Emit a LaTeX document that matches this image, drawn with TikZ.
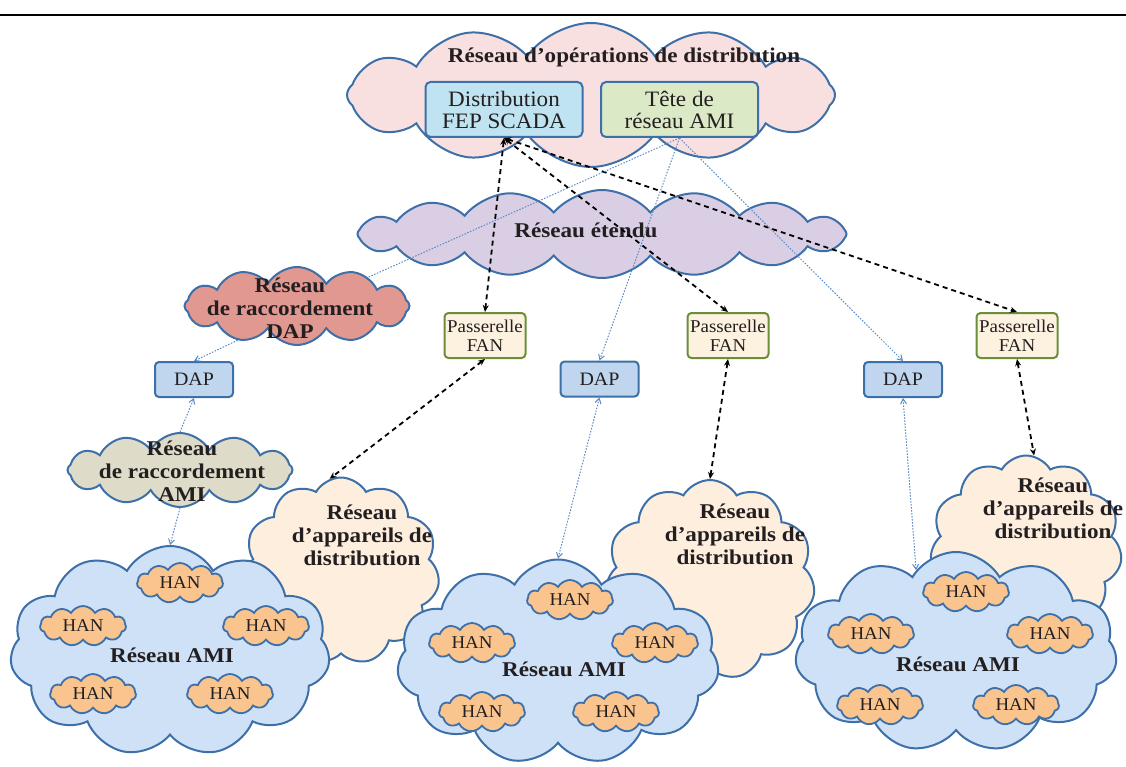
\documentclass[tikz,border=0pt]{standalone}
\usepackage{fontspec}
\setmainfont{Liberation Serif}[FakeStretch=1.05]
\newfontfamily\widefont{Liberation Serif}[FakeStretch=1.1]
\usetikzlibrary{shapes.symbols,arrows.meta}
\definecolor{cblue}{HTML}{3D6FA8}
\definecolor{pinkc}{HTML}{F9E0E0}
\definecolor{scadac}{HTML}{BFE3F0}
\definecolor{tetec}{HTML}{DCE9C6}
\definecolor{wanc}{HTML}{DACEE4}
\definecolor{dapcl}{HTML}{E09890}
\definecolor{fanfill}{HTML}{FDF1E0}
\definecolor{fangreen}{HTML}{6B8E3A}
\definecolor{dapfill}{HTML}{C0D5EE}
\definecolor{amirc}{HTML}{DEDBC8}
\definecolor{devc}{HTML}{FDEEDE}
\definecolor{amic}{HTML}{CFE1F7}
\definecolor{hanc}{HTML}{F9C48E}
\definecolor{txt}{HTML}{231F20}
\definecolor{dotc}{HTML}{5A8AC6}
\tikzset{
  cl/.style={cloud, cloud ignores aspect, draw=cblue, line width=2pt, inner sep=0pt, cloud puff arc=120},
  han/.style={cl, fill=hanc, line width=1.8pt, cloud puffs=11, minimum width=86pt, minimum height=40pt,
     font=\fontsize{18}{20}\selectfont, text=txt},
  ctext/.style={font=\widefont\bfseries\fontsize{21}{23}\selectfont, align=center, text=txt, inner sep=0pt},
  bigbox/.style={rectangle, rounded corners=5pt, draw=cblue, line width=2pt, minimum width=157pt,
     minimum height=55pt, font=\fontsize{22}{22}\selectfont, align=center, text=txt, inner sep=0pt},
  fanbox/.style={rectangle, rounded corners=4pt, draw=fangreen, line width=2pt, fill=fanfill,
     minimum width=81pt, minimum height=45pt, font=\fontsize{18}{19}\selectfont, align=center, text=txt, inner sep=0pt},
  dapbox/.style={rectangle, rounded corners=4pt, draw=cblue, line width=2pt, fill=dapfill,
     minimum width=78pt, minimum height=35pt, font=\fontsize{19}{20}\selectfont, text=txt, inner sep=0pt},
  fanlink/.style={black, line width=1.8pt, dash pattern=on 5pt off 4pt, {Stealth[length=7pt,width=6pt]}-{Stealth[length=7pt,width=6pt]}},
  bluelink/.style={dotc, line width=1pt, dash pattern=on 1.5pt off 1.5pt},
  btip/.style={-{Straight Barb[length=5pt,width=6pt]}},
  bboth/.style={{Straight Barb[length=5pt,width=6pt]}-{Straight Barb[length=5pt,width=6pt]}}
}
\begin{document}
\begin{tikzpicture}[x=1pt,y=-1pt]
\useasboundingbox (0,0) rectangle (1126,767);
\coordinate (tl) at (0,15);
\coordinate (tr) at (1126,15);
\draw[line width=2.5pt] (tl) -- (tr);

% top cloud
\node[cl, fill=pinkc, cloud puffs=12, cloud puff arc=110, minimum width=488pt, minimum height=144pt] (ops) at (591,95) {};
\node[ctext] (opst) at (624,57) {Réseau d’opérations de distribution};
\node[bigbox, fill=scadac] (scada) at (504,109.5) {Distribution\\FEP SCADA};
\node[bigbox, fill=tetec] (tete) at (679.5,109.5) {Tête de\\réseau AMI};

% WAN
\node[cl, fill=wanc, cloud puffs=16, cloud puff arc=100, minimum width=489pt, minimum height=88pt] (wan) at (602,234) {};
\node[ctext] (want) at (586,230) {Réseau étendu};

% DAP access cloud
\node[cl, fill=dapcl, cloud puffs=12, minimum width=225pt, minimum height=78pt] (dapc) at (297,306) {};
\node[ctext] (dapct) at (290,308) {Réseau\\de raccordement\\DAP};

% AMI access cloud
\node[cl, fill=amirc, cloud puffs=12, minimum width=225pt, minimum height=74pt] (amir) at (180,470) {};
\node[ctext] (amirt) at (182,471) {Réseau\\de raccordement\\AMI};

% FAN gateways
\node[fanbox] (fan1) at (485,335.5) {Passerelle\\FAN};
\node[fanbox] (fan2) at (728,335.5) {Passerelle\\FAN};
\node[fanbox] (fan3) at (1017,335.5) {Passerelle\\FAN};

% DAP boxes
\node[dapbox] (dap1) at (194,379.5) {DAP};
\node[dapbox] (dap2) at (599.5,379) {DAP};
\node[dapbox] (dap3) at (903,379.5) {DAP};

% device networks
\node[cl, fill=devc, cloud puffs=11, minimum width=197pt, minimum height=187pt] (dev1) at (341,571) {};
\node[cl, fill=devc, cloud puffs=11, minimum width=210pt, minimum height=200pt] (dev2) at (710,580) {};
\node[cl, fill=devc, cloud puffs=11, minimum width=192pt, minimum height=185pt] (dev3) at (1026,548) {};
\node[ctext] (dev1t) at (362,535) {Réseau\\d’appareils de\\distribution};
\node[ctext] (dev2t) at (735,534) {Réseau\\d’appareils de\\distribution};
\node[ctext] (dev3t) at (1053,508) {Réseau\\d’appareils de\\distribution};

% AMI networks
\node[cl, fill=amic, cloud puffs=11, minimum width=320pt, minimum height=210pt] (ami1) at (170,651) {};
\node[cl, fill=amic, cloud puffs=11, minimum width=322pt, minimum height=205pt] (ami2) at (558,662) {};
\node[cl, fill=amic, cloud puffs=11, minimum width=322pt, minimum height=200pt] (ami3) at (956,652) {};
\node[ctext] (ami1t) at (172,655) {Réseau AMI};
\node[ctext] (ami2t) at (564,669) {Réseau AMI};
\node[ctext] (ami3t) at (958,664) {Réseau AMI};

% HANs
\node[han] (h11) at (180,583) {HAN};
\node[han] (h12) at (83,626) {HAN};
\node[han] (h13) at (266,626) {HAN};
\node[han] (h14) at (93,694) {HAN};
\node[han] (h15) at (230,694) {HAN};
\node[han] (h21) at (570,600) {HAN};
\node[han] (h22) at (472,643) {HAN};
\node[han] (h23) at (655,643) {HAN};
\node[han] (h24) at (482,712) {HAN};
\node[han] (h25) at (616,712) {HAN};
\node[han] (h31) at (966,592) {HAN};
\node[han] (h32) at (871,634) {HAN};
\node[han] (h33) at (1050,634) {HAN};
\node[han] (h34) at (880,705) {HAN};
\node[han] (h35) at (1016,705) {HAN};

% connectors
\draw[fanlink] (scada.south) -- (fan1.north);
\draw[fanlink] (scada.south) -- (fan2.north);
\draw[fanlink] (scada.south) -- (fan3.north);
\draw[fanlink] (fan1.south) -- (dev1.97);
\draw[fanlink] (fan2.south) -- (dev2.north);
\draw[fanlink] (fan3.south) -- (dev3.85);

\draw[bluelink] (tete.south) -- (dapc.22);
\draw[bluelink, btip] (dapc.210) -- (dap1.north);
\draw[bluelink, btip] (tete.south) -- (dap2.north);
\draw[bluelink, btip] (tete.south) -- (dap3.north);
\draw[bluelink, btip] (amir.north) -- (dap1.south);
\draw[bluelink, btip] (amir.south) -- (ami1.north);
\draw[bluelink, bboth] (dap2.south) -- (ami2.north);
\draw[bluelink, bboth] (dap3.south) -- (ami3.116);
\end{tikzpicture}
\end{document}
